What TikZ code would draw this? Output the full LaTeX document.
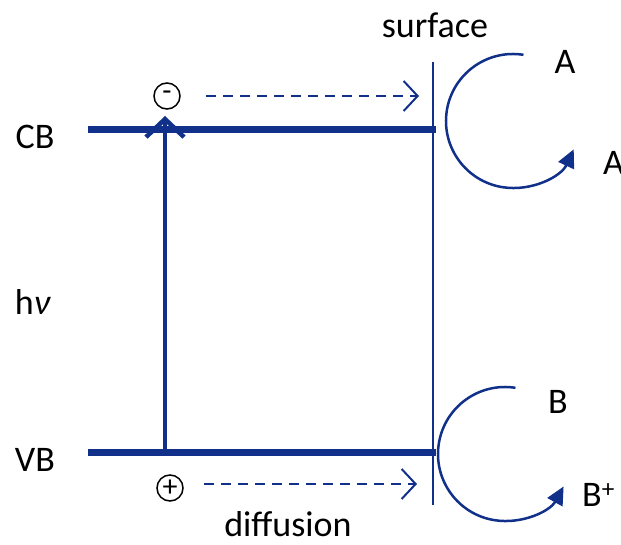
\documentclass[tikz,border=0pt]{standalone}
\usepackage{fontspec}
\setmainfont{Carlito}
\usetikzlibrary{arrows.meta}
\definecolor{band}{RGB}{16,48,138}
\tikzset{
  lbl/.style={font=\fontsize{36}{42}\selectfont, inner sep=0pt},
  bandline/.style={band, line width=7pt},
  dasharrow/.style={band, line width=2pt, dash pattern=on 10pt off 7pt, -{Straight Barb[length=14pt,width=30pt,line width=2pt]}},
  redox/.style={band, line width=2.5pt, -{Triangle[length=18pt,width=17pt]}},
  charge/.style={circle, draw=black, line width=1.5pt, minimum size=26pt, inner sep=0pt, font=\fontsize{30}{30}\selectfont}
}
\begin{document}
\begin{tikzpicture}[x=1pt,y=-1pt]
\useasboundingbox (0,0) rectangle (621,545);
% coordinates
\coordinate (cbL) at (88,130);
\coordinate (cbR) at (436,130);
\coordinate (vbL) at (88,452);
\coordinate (vbR) at (436,452);
\coordinate (exc0) at (165,452);
\coordinate (exc1) at (165,116);
\coordinate (sT) at (433,62);
\coordinate (sB) at (433,505);
% bands
\draw[bandline] (cbL) -- (cbR);
\draw[bandline] (vbL) -- (vbR);
\draw[band, line width=2pt] (sT) -- (sB);
\draw[band, line width=4.5pt, -{Straight Barb[length=18pt,width=38pt,line width=4.5pt]}] (exc0) -- (exc1);
% labels
\node[lbl] (surf) at (435,25) {surface};
\node[lbl] (cb) at (35,137) {CB};
\node[lbl] (vb) at (35,460) {VB};
\node[lbl] (hv) at (33,302) {h\textit{ν}};
\node[lbl] (diff) at (288,524) {diffusion};
\node[lbl] (A) at (565,62) {A};
\node[lbl, anchor=west] (Am) at (603,163) {A\textsuperscript{−}};
\node[lbl] (B) at (558,402) {B};
\node[lbl, anchor=west] (Bp) at (582,495) {B\textsuperscript{+}};
% charges
\node[charge] (el) at (167,96) {\raisebox{-3pt}{-}};
\node[charge] (ho) at (170,488) {+};
% diffusion arrows
\coordinate (d1a) at (206,96);
\coordinate (d1b) at (419,96);
\coordinate (d2a) at (204,484);
\coordinate (d2b) at (417,484);
\draw[dasharrow] (d1a) -- (d1b);
\draw[dasharrow] (d2a) -- (d2b);
% redox arcs
\draw[redox] (513,121) ++(-81:67) arc[start angle=-81, end angle=-335, radius=67];
\draw[redox] (505,454) ++(-81:67) arc[start angle=-81, end angle=-331, radius=67];
\end{tikzpicture}
\end{document}
